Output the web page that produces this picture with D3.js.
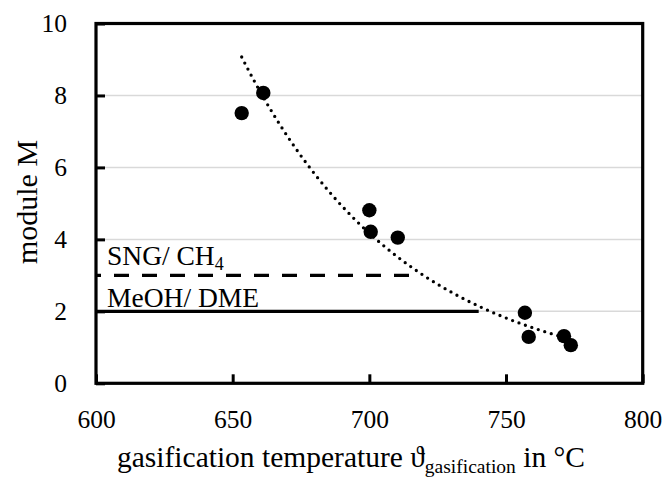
<!DOCTYPE html>
<html>
<head>
<meta charset="utf-8">
<script src="https://cdn.jsdelivr.net/npm/d3@7"></script>
<style>
  html, body { margin: 0; padding: 0; background: #fff; }
  svg { display: block; }
</style>
</head>
<body>
<svg id="chart" width="662" height="477"></svg>
<script>
// Measured gasification runs: temperature (°C) and resulting module M
const tempC   = [653.3, 661.2, 700.0, 700.5, 710.4, 756.9, 758.3, 771.2, 773.7];
const moduleM = [7.51, 8.07, 4.81, 4.21, 4.05, 1.96, 1.29, 1.31, 1.06];

// Required module for downstream syntheses (horizontal reference lines)
const refNames  = ["SNG/ CH", "MeOH/ DME"];
const refSubs   = ["4", ""];
const refValues = [3, 2];
const refEndsC  = [715.5, 740];

const xTicks = [600, 650, 700, 750, 800];
const yTicks = [0, 2, 4, 6, 8, 10];

const FONT = '"Liberation Serif"';
const svg = d3.select("#chart").style("font-family", FONT);
const plotL = 96, plotR = 642.7, plotT = 23.5, plotB = 383.3;

const x = d3.scaleLinear().domain([600, 800]).range([plotL, plotR]);
const y = d3.scaleLinear().domain([0, 10]).range([plotB, plotT]);

// horizontal gridlines
svg.append("g").selectAll("line")
  .data(yTicks.filter(v => v > 0 && v < 10))
  .join("line")
  .attr("x1", plotL).attr("x2", plotR)
  .attr("y1", d => y(d)).attr("y2", d => y(d))
  .attr("stroke", "#d9d9d9").attr("stroke-width", 1.5);

// exponential trend line (least squares on ln M)
const n = tempC.length;
const lnM = moduleM.map(Math.log);
const mx = d3.mean(tempC), my = d3.mean(lnM);
let sxy = 0, sxx = 0;
for (let i = 0; i < n; i++) { sxy += (tempC[i] - mx) * (lnM[i] - my); sxx += (tempC[i] - mx) ** 2; }
const slope = sxy / sxx, icpt = my - slope * mx;
const tMin = d3.min(tempC), tMax = d3.max(tempC);
const trend = d3.range(0, 101).map(i => {
  const t = tMin + (tMax - tMin) * i / 100;
  return [t, Math.exp(icpt + slope * t)];
});
svg.append("path")
  .attr("d", d3.line().x(d => x(d[0])).y(d => y(d[1]))(trend))
  .attr("fill", "none").attr("stroke", "#000")
  .attr("stroke-width", 3.3).attr("stroke-linecap", "round")
  .attr("stroke-dasharray", "0 6.8");

// reference lines
svg.append("line")
  .attr("x1", x(600)).attr("x2", x(refEndsC[0]))
  .attr("y1", y(refValues[0])).attr("y2", y(refValues[0]))
  .attr("stroke", "#000").attr("stroke-width", 3.3)
  .attr("stroke-dasharray", "15 13").attr("stroke-dashoffset", 10);
svg.append("line")
  .attr("x1", x(600)).attr("x2", x(refEndsC[1]))
  .attr("y1", y(refValues[1])).attr("y2", y(refValues[1]))
  .attr("stroke", "#000").attr("stroke-width", 3.3);

// reference labels
const labelLift = [10, 4];
refNames.forEach((name, i) => {
  const t = svg.append("text")
    .attr("x", 107).attr("y", y(refValues[i]) - labelLift[i])
    .style("font-family", FONT).attr("font-size", 27.5)
    .text(name);
  if (refSubs[i]) {
    t.append("tspan").attr("font-size", 18).attr("dy", 5).text(refSubs[i]);
  }
});

// data points
svg.append("g").selectAll("circle")
  .data(tempC.map((t, i) => [t, moduleM[i]]))
  .join("circle")
  .attr("cx", d => x(d[0])).attr("cy", d => y(d[1]))
  .attr("r", 7.2).attr("fill", "#000");

// frame
svg.append("rect")
  .attr("x", plotL).attr("y", plotT)
  .attr("width", plotR - plotL).attr("height", plotB - plotT)
  .attr("fill", "none").attr("stroke", "#000").attr("stroke-width", 3.2);

// axes with inward ticks
const yAxis = d3.axisLeft(y).tickValues(yTicks).tickSize(-9).tickPadding(29).tickFormat(d3.format("d"));
const gy = svg.append("g").attr("transform", `translate(${plotL},0)`).call(yAxis);
gy.attr("font-family", null).attr("font-size", null);
gy.select(".domain").remove();
gy.selectAll(".tick line").attr("stroke", "#000").attr("stroke-width", 3);
gy.selectAll(".tick text").style("font-family", FONT).attr("font-size", 25.5).attr("fill", "#000");

const xAxis = d3.axisBottom(x).tickValues(xTicks).tickSize(-9).tickPadding(27).tickFormat(d3.format("d"));
const gx = svg.append("g").attr("transform", `translate(0,${plotB})`).call(xAxis);
gx.attr("font-family", null).attr("font-size", null);
gx.select(".domain").remove();
gx.selectAll(".tick line").attr("stroke", "#000").attr("stroke-width", 3);
gx.selectAll(".tick text").style("font-family", FONT).attr("font-size", 25.5).attr("fill", "#000");

// axis titles
const xt = svg.append("text").attr("x", 117).attr("y", 467)
  .style("font-family", FONT).attr("font-size", 29.5);
xt.append("tspan").text("gasification temperature \u03D1");
xt.append("tspan").attr("font-size", 19.5).attr("dy", 6).text("gasification");
xt.append("tspan").attr("dy", -6).text(" in \u00B0C");

svg.append("text")
  .attr("transform", "translate(37,202) rotate(-90)")
  .style("font-family", FONT)
  .attr("text-anchor", "middle").attr("font-size", 30)
  .text("module M");
</script>
</body>
</html>
